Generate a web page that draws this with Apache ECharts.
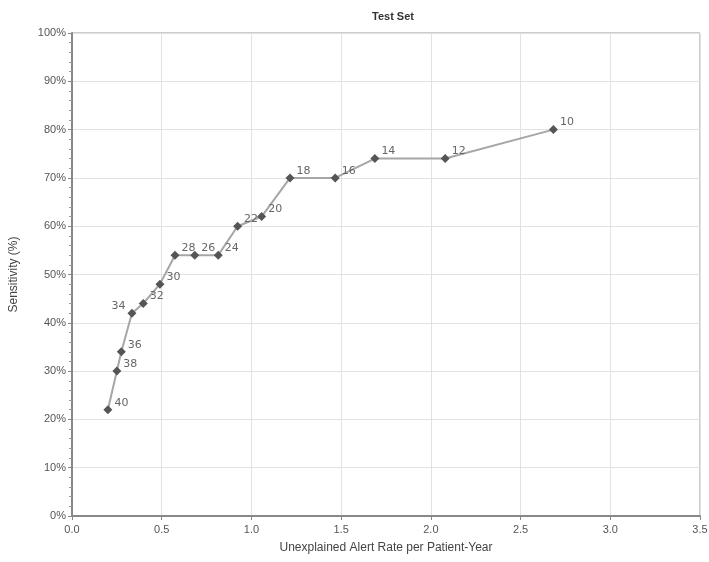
<!DOCTYPE html>
<html>
<head>
<meta charset="utf-8">
<script src="https://cdn.jsdelivr.net/npm/echarts@6/dist/echarts.min.js"></script>
<style>html,body{margin:0;padding:0;background:#fff}#c{width:709px;height:562px}</style>
</head>
<body>
<div id="c"></div>
<script>
var thresholds = ['40','38','36','34','32','30','28','26','24','22','20','18','16','14','12','10'];
var alertRate = [0.20,0.25,0.275,0.334,0.397,0.49,0.574,0.684,0.815,0.923,1.057,1.215,1.467,1.688,2.08,2.683];
var sensitivity = [22,30,34,42,44,48,54,54,54,60,62,70,70,74,74,80];
var xTicks = ['0.0','0.5','1.0','1.5','2.0','2.5','3.0','3.5'];

var data = alertRate.map(function(x,i){
  var d = {value:[x, sensitivity[i]], name: thresholds[i]};
  if (thresholds[i] === '34') d.label = {position:'left', offset:[0,-7]};
  return d;
});

var chart = echarts.init(document.getElementById('c'));
chart.setOption({
  animation:false,
  backgroundColor:'#fff',
  title:{text:'Test Set', left:388, top:6, textAlign:'center',
    textStyle:{fontFamily:'Liberation Sans', fontSize:11, fontWeight:'bold', color:'#333'}},
  grid:{left:72, right:9, top:33, bottom:46, show:true, borderColor:'#999', borderWidth:1,
    backgroundColor:'transparent', outerBoundsMode:'none', containLabel:false},
  xAxis:{type:'value', min:0, max:3.5, interval:0.5,
    name:'Unexplained Alert Rate per Patient-Year', nameLocation:'middle', nameGap:26,
    nameTextStyle:{fontFamily:'Liberation Sans', fontSize:12, color:'#444'},
    axisLine:{show:true, lineStyle:{color:'#888', width:2}},
    axisTick:{show:true, length:4, lineStyle:{color:'#888'}},
    axisLabel:{fontFamily:'Liberation Sans', fontSize:11, color:'#555', margin:8,
      formatter:function(v){ var i=Math.round(v/0.5); return xTicks[i]; }},
    splitLine:{show:true, lineStyle:{color:'#e2e2e2', width:1}}},
  yAxis:{type:'value', min:0, max:100, interval:10,
    name:'Sensitivity (%)', nameLocation:'middle', nameGap:52, nameRotate:90,
    nameTextStyle:{fontFamily:'Liberation Sans', fontSize:12, color:'#444'},
    axisLine:{show:true, lineStyle:{color:'#888', width:2}},
    axisTick:{show:true, length:4, lineStyle:{color:'#888'}},
    minorTick:{show:true, splitNumber:5, length:3, lineStyle:{color:'#999'}},
    axisLabel:{fontFamily:'Liberation Sans', fontSize:11, color:'#555', margin:6, formatter:'{value}%'},
    splitLine:{show:true, lineStyle:{color:'#e2e2e2', width:1}}},
  series:[{
    type:'line', data:data,
    symbol:'diamond', symbolSize:9,
    itemStyle:{color:'#555'},
    lineStyle:{color:'#a6a6a6', width:2},
    label:{show:true, position:'right', distance:2, offset:[0,-7],
      formatter:'{b}', fontFamily:'DejaVu Sans', fontSize:11, color:'#666'}
  }]
});
</script>
</body>
</html>
